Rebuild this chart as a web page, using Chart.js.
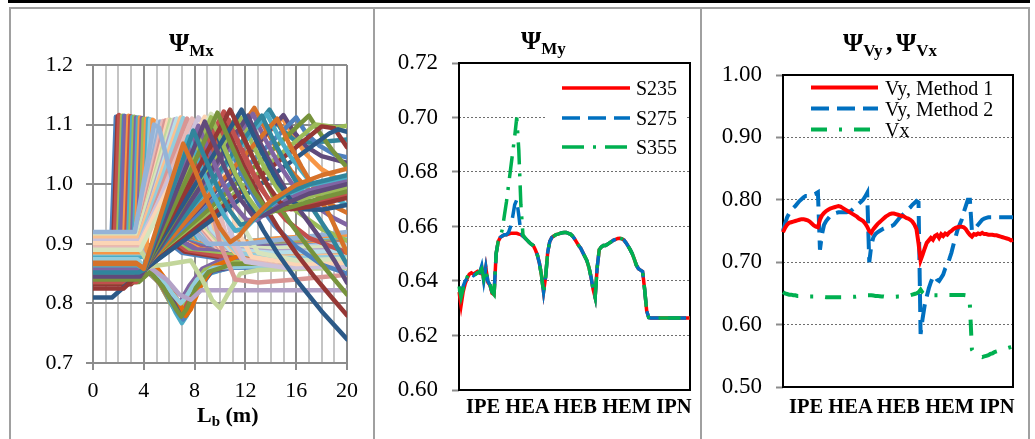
<!DOCTYPE html>
<html>
<head>
<meta charset="utf-8">
<script src="https://cdn.jsdelivr.net/npm/chart.js@4.4.0/dist/chart.umd.min.js"></script>
<style>
  html, body { margin: 0; padding: 0; background: #fff; }
  #sheet { position: relative; width: 1035px; height: 439px; overflow: hidden; background: #fff;
           font-family: 'Liberation Serif', 'Times New Roman', serif; color: #000; }
  .rule { position: absolute; background: #a0a0a0; }
  canvas { position: absolute; }
  .ttl { position: absolute; font-weight: bold; font-size: 26px; line-height: 26px; white-space: nowrap; }
  .ttl .sb { font-size: 17px; position: relative; top: 5px; }
  .axt { position: absolute; font-weight: bold; font-size: 22px; line-height: 22px; white-space: nowrap; }
  .axt .sb { font-size: 15px; position: relative; top: 4px; }
  .cat { position: absolute; font-weight: bold; font-size: 20.5px; line-height: 20px; white-space: nowrap; }
</style>
</head>
<body>
<div id="sheet">
  <div class="rule" style="left:8px;top:0;width:1022px;height:3px;background:#000"></div>
  <div class="rule" style="left:9px;top:7px;width:1021px;height:2px"></div>
  <div class="rule" style="left:9px;top:7px;width:2px;height:432px"></div>
  <div class="rule" style="left:373px;top:7px;width:2px;height:432px"></div>
  <div class="rule" style="left:700px;top:7px;width:2px;height:432px"></div>
  <div class="rule" style="left:1028px;top:7px;width:2px;height:432px"></div>

  <canvas id="mxChart" width="358" height="430" style="left:12px;top:9px"></canvas>
  <canvas id="myChart" width="321" height="430" style="left:377px;top:9px"></canvas>
  <canvas id="vChart" width="324" height="430" style="left:703px;top:9px"></canvas>

  <div class="ttl" style="left:169px;top:30px">Ψ<span class="sb">Mx</span></div>
  <div class="ttl" style="left:521px;top:28px">Ψ<span class="sb">My</span></div>
  <div class="ttl" style="left:843px;top:30px;word-spacing:-3px">Ψ<span class="sb">Vy</span> , Ψ<span class="sb">Vx</span></div>
  <div class="axt" style="left:197px;top:404px">L<span class="sb">b</span> (m)</div>
  <div class="cat" style="left:466px;top:396px">IPE HEA HEB HEM IPN</div>
  <div class="cat" style="left:789px;top:396px">IPE HEA HEB HEM IPN</div>
</div>

<script>
// ---------- Ψ_Mx against unbraced length: each curve is a list of [Lb (m), Ψ] ----------

// early curves: flat, then a near-vertical jump to about 1.11
const steepRise = [
  [[0,0.905],[1.45,0.905],[1.8,1.113],[2.15,1.105],[3.0,1.06],[4.2,0.97],[5.5,0.91],[7.0,0.885],[10,0.875],[20,0.872]],
  [[0,0.902],[1.6,0.902],[1.95,1.114],[2.3,1.106],[3.2,1.058],[4.4,0.972],[5.7,0.912],[7.2,0.887],[10,0.878],[20,0.875]],
  [[0,0.898],[1.7,0.898],[2.05,1.116],[2.4,1.106],[3.3,1.06],[4.5,0.975],[5.8,0.915],[7.3,0.89],[10,0.88],[20,0.878]],
  [[0,0.892],[1.95,0.892],[2.3,1.115],[2.65,1.105],[3.6,1.055],[4.8,0.97],[6.1,0.915],[7.6,0.892],[11,0.884],[20,0.882]],
  [[0,0.894],[2.1,0.894],[2.45,1.115],[2.8,1.105],[3.8,1.052],[5.0,0.968],[6.3,0.913],[7.9,0.893],[12,0.889],[20,0.887]],
  [[0,0.887],[2.2,0.887],[2.55,1.114],[2.9,1.105],[3.9,1.05],[5.1,0.965],[6.4,0.912],[8.0,0.893],[12,0.888],[20,0.886]],
  [[0,0.900],[2.45,0.900],[2.8,1.115],[3.15,1.106],[4.1,1.055],[5.4,0.97],[6.7,0.918],[8.3,0.898],[12,0.893],[20,0.892]],
  [[0,0.897],[2.6,0.897],[2.95,1.114],[3.3,1.105],[4.3,1.052],[5.6,0.966],[6.9,0.916],[8.5,0.899],[12,0.895],[20,0.895]],
  [[0,0.895],[2.75,0.895],[3.1,1.113],[3.45,1.104],[4.4,1.05],[5.7,0.965],[7.0,0.915],[8.6,0.9],[12,0.896],[20,0.897]],
  [[0,0.891],[2.9,0.891],[3.25,1.113],[3.6,1.104],[4.6,1.05],[5.9,0.963],[7.2,0.912],[8.9,0.898],[13,0.9],[20,0.9]],
  [[0,0.889],[3.05,0.889],[3.4,1.112],[3.75,1.104],[4.7,1.05],[6.0,0.962],[7.3,0.91],[9.0,0.897],[13,0.9],[20,0.902]],
  [[0,0.885],[3.2,0.885],[3.55,1.112],[3.9,1.104],[4.9,1.05],[6.2,0.961],[7.5,0.911],[9.2,0.899],[13,0.903],[20,0.905]],
  [[0,0.884],[3.35,0.884],[3.7,1.112],[4.05,1.104],[5.0,1.05],[6.3,0.96],[7.6,0.912],[9.3,0.9],[13,0.904],[20,0.906]],
  [[0,0.882],[3.5,0.882],[3.85,1.111],[4.2,1.103],[5.2,1.05],[6.5,0.96],[7.8,0.912],[9.5,0.901],[14,0.905],[20,0.908]],
  [[0,0.880],[3.65,0.880],[4.0,1.11],[4.35,1.103],[5.3,1.05],[6.6,0.96],[7.9,0.912],[9.6,0.902],[14,0.905],[20,0.91]],
  [[0,0.879],[3.8,0.879],[4.2,1.11],[4.55,1.103],[5.5,1.05],[6.8,0.958],[8.1,0.91],[9.9,0.9],[14,0.907],[20,0.911]],
  [[0,0.878],[3.95,0.878],[4.35,1.11],[4.7,1.103],[5.6,1.05],[6.9,0.958],[8.2,0.91],[10,0.9],[14,0.908],[20,0.912]],
  [[0,0.884],[4.05,0.884],[4.5,1.109],[4.85,1.102],[5.8,1.047],[7.1,0.956],[8.4,0.909],[10.2,0.9],[15,0.909],[20,0.914]],
  [[0,0.886],[4.2,0.886],[4.7,1.108],[5.05,1.102],[6.0,1.045],[7.3,0.955],[8.6,0.908],[10.5,0.9],[15,0.91],[20,0.915]]
];
const steepRiseColors = ['#4F81BD','#953735','#C0504D','#9BBB59','#4F81BD','#8064A2','#F79646','#C0504D','#4BACC6',
                         '#9BBB59','#8064A2','#4BACC6','#F79646','#8064A2','#9BBB59','#F79646','#4BACC6','#93CDDD','#F79646'];

// curves that leave the 4 m node downwards and bottom out near 7 m
const nodeDips = [
  [[0,0.848],[3.7,0.848],[4.3,0.853],[5.2,0.835],[6.0,0.805],[6.4,0.793],[6.8,0.8],[7.6,0.83],[8.6,0.858],[10,0.872],[14,0.878],[20,0.88]],
  [[0,0.843],[3.7,0.843],[4.4,0.853],[5.3,0.832],[6.1,0.8],[6.6,0.786],[7.0,0.795],[7.8,0.828],[8.8,0.856],[10.2,0.868],[14,0.872],[20,0.874]],
  [[0,0.838],[3.6,0.838],[4.5,0.853],[5.4,0.83],[6.3,0.795],[6.8,0.779],[7.2,0.79],[8.0,0.826],[9.0,0.852],[10.5,0.864],[15,0.868],[20,0.868]],
  [[0,0.860],[3.8,0.860],[4.6,0.853],[5.5,0.83],[6.5,0.785],[7.0,0.767],[7.4,0.78],[8.2,0.822],[9.2,0.85],[11,0.862],[16,0.864],[20,0.865]],
  [[0,0.853],[3.8,0.853],[4.7,0.853],[5.6,0.83],[6.6,0.787],[7.1,0.773],[7.5,0.785],[8.3,0.824],[9.3,0.852],[11,0.86],[20,0.862]],
  [[0,0.846],[3.7,0.846],[4.8,0.853],[5.7,0.83],[6.7,0.792],[7.2,0.785],[7.6,0.795],[8.4,0.83],[9.4,0.855],[11.5,0.863],[20,0.866]],
  [[0,0.863],[3.6,0.863],[4.4,0.856],[5.0,0.861],[5.9,0.835],[6.8,0.8],[7.3,0.779],[7.7,0.79],[8.45,0.828],[9.5,0.862],[11.5,0.88],[20,0.885]],
  [[0,0.874],[3.5,0.874],[4.3,0.856],[5.3,0.845],[6.3,0.815],[6.9,0.8],[7.3,0.81],[8.2,0.84],[9.5,0.86],[12,0.862],[20,0.864]],
  [[0,0.836],[3.6,0.836],[4.5,0.853],[5.5,0.828],[6.5,0.792],[6.95,0.778],[7.35,0.79],[8.1,0.826],[9.1,0.853],[11,0.866],[20,0.87]],
  [[0,0.900],[3.6,0.900],[4.5,0.86],[5.8,0.84],[6.8,0.815],[7.7,0.806],[8.5,0.822],[12,0.822],[20,0.822]],
  [[0,0.895],[3.6,0.895],[4.5,0.862],[6.0,0.866],[7.7,0.872],[8.6,0.84],[9.4,0.805],[10,0.792],[10.6,0.815],[11.6,0.85],[13,0.856],[20,0.86]]
];
const nodeDipColors = ['#8064A2','#9BBB59','#C0504D','#4BACC6','#4F81BD','#604A7B','#E46C0A','#93CDDD','#77933C','#B3A2C7','#C3D69B'];

// pale curves climbing diagonally from about 3.5 m
const paleRise = [
  [[0,0.918],[3.3,0.918],[5.1,1.105],[5.45,1.1],[6.5,1.02],[7.8,0.94],[9.3,0.9],[12,0.89],[20,0.9]],
  [[0,0.916],[3.4,0.916],[5.3,1.105],[5.65,1.1],[6.7,1.02],[8.0,0.937],[9.5,0.897],[13,0.888],[20,0.895]],
  [[0,0.912],[3.4,0.912],[5.5,1.106],[5.85,1.1],[6.9,1.02],[8.2,0.935],[9.7,0.895],[13,0.885],[20,0.89]],
  [[0,0.909],[3.45,0.909],[5.7,1.107],[6.05,1.1],[7.1,1.02],[8.4,0.932],[9.9,0.894],[13,0.886],[20,0.89]],
  [[0,0.907],[3.5,0.907],[5.9,1.108],[6.25,1.101],[7.3,1.02],[8.6,0.93],[10.1,0.893],[13,0.885],[20,0.892]],
  [[0,0.913],[3.5,0.913],[6.1,1.108],[6.45,1.1],[7.5,1.02],[8.8,0.93],[10.3,0.894],[14,0.89],[20,0.893]],
  [[0,0.915],[3.5,0.915],[6.3,1.108],[6.65,1.1],[7.7,1.02],[9.0,0.93],[10.5,0.895],[14,0.892],[20,0.895]],
  [[0,0.904],[3.55,0.904],[6.45,1.109],[6.8,1.1],[7.85,1.02],[9.15,0.927],[10.6,0.892],[14,0.887],[20,0.89]],
  [[0,0.902],[3.6,0.902],[6.6,1.11],[6.95,1.1],[8.0,1.02],[9.3,0.925],[10.8,0.89],[14,0.885],[20,0.888]],
  [[0,0.910],[3.6,0.910],[6.9,1.112],[7.25,1.102],[8.3,1.02],[9.6,0.925],[11.2,0.885],[15,0.878],[20,0.88]],
  [[0,0.899],[3.6,0.899],[7.1,1.111],[7.45,1.101],[8.5,1.018],[9.8,0.922],[11.4,0.884],[15,0.876],[20,0.878]],
  [[0,0.895],[3.7,0.895],[7.4,1.11],[7.75,1.1],[8.8,1.01],[10,0.9],[11.2,0.84],[13,0.835],[16,0.84],[20,0.848]],
  [[0,0.893],[3.7,0.893],[7.8,1.11],[8.15,1.1],[9.2,1.015],[10.4,0.92],[11.7,0.875],[15,0.862],[20,0.866]],
  [[0,0.905],[3.7,0.905],[8.3,1.112],[8.65,1.102],[9.6,1.02],[10.8,0.92],[12,0.87],[15,0.86],[20,0.862]],
  [[0,0.901],[3.7,0.901],[8.8,1.113],[9.15,1.103],[10.1,1.02],[11.3,0.925],[12.5,0.878],[16,0.866],[20,0.868]],
  [[0,0.890],[3.7,0.890],[9.3,1.118],[9.65,1.108],[10.6,1.03],[11.8,0.93],[13,0.885],[16,0.872],[20,0.875]],
  [[0,0.920],[3.3,0.920],[4.8,1.1],[5.2,1.095],[6.2,1.01],[7.5,0.93],[9.0,0.9],[12,0.9],[20,0.92]]
];
const paleRiseColors = ['#B9CDE5','#95B3D7','#E6B9B8','#D99694','#FCD5B5','#C3D69B','#D7E4BD','#B3A2C7','#B7DEE8',
                        '#FAC090','#93CDDD','#D99694','#E6B9B8','#CCC1DA','#FCD5B5','#D7E4BD','#95B3D7'];

// late peaks that stay high to 20 m
const fanLate = [
  [[0,0.862],[3.5,0.862],[4.0,0.857],[12.7,1.128],[13.6,1.092],[14.6,1.055],[15.6,1.022],[17,0.99],[18.5,0.968],[20,0.952]],
  [[0,0.861],[3.5,0.861],[4.0,0.858],[14.9,1.112],[15.8,1.08],[16.8,1.05],[18,1.025],[20,1.0]],
  [[0,0.850],[3.6,0.850],[4.0,0.856],[13.9,1.125],[14.8,1.093],[15.8,1.075],[17,1.07],[18.5,1.072],[20,1.075]],
  [[0,0.842],[3.7,0.842],[4.0,0.855],[15.0,1.116],[15.8,1.088],[16.8,1.063],[18,1.047],[20,1.036]],
  [[0,0.851],[3.6,0.851],[4.0,0.856],[16.0,1.112],[16.8,1.085],[17.8,1.065],[19,1.05],[20,1.045]],
  [[0,0.838],[3.6,0.838],[4.0,0.855],[17.0,1.115],[17.8,1.088],[18.8,1.058],[20,1.028]],
  [[0,0.843],[3.6,0.843],[4.0,0.855],[17.5,1.1],[18.3,1.098],[19.2,1.095],[20,1.098]],
  [[0,0.832],[3.0,0.832],[4.0,0.855],[18.0,1.097],[19.0,1.094],[20,1.062]],
  [[0,0.856],[3.7,0.856],[4.0,0.856],[18.6,1.085],[19.3,1.092],[20,1.088]]
];
const fanLateColors = ['#D6722A','#F79646','#31859C','#604A7B','#4F81BD','#77933C','#9BBB59','#953735','#2C5987'];

// peaks that fall well below 1.0 by 20 m
const fanDrop = [
  [[0,0.851],[3.7,0.851],[4.0,0.856],[9.9,1.102],[10.9,1.055],[11.9,1.01],[13,0.968],[14.3,0.93],[16,0.895],[18,0.865],[20,0.85]],
  [[0,0.849],[3.7,0.849],[4.0,0.856],[10.7,1.108],[11.7,1.06],[12.7,1.016],[13.8,0.975],[15.2,0.94],[17,0.91],[20,0.885]],
  [[0,0.847],[3.6,0.847],[4.0,0.855],[11.6,1.112],[12.5,1.07],[13.5,1.028],[14.6,0.99],[16,0.955],[18,0.925],[20,0.905]],
  [[0,0.855],[3.7,0.855],[4.0,0.857],[12.6,1.118],[13.5,1.078],[14.5,1.038],[15.7,1.0],[17.2,0.968],[18.8,0.945],[20,0.932]],
  [[0,0.859],[3.6,0.859],[4.0,0.857],[13.7,1.118],[14.6,1.08],[15.6,1.045],[16.8,1.012],[18.3,0.985],[20,0.965]],
  [[0,0.868],[3.4,0.868],[4.0,0.858],[14.5,1.11],[15.4,1.07],[16.4,1.03],[17.5,0.99],[18.7,0.945],[20,0.885]],
  [[0,0.854],[3.7,0.854],[4.0,0.857],[13.3,1.115],[14.2,1.074],[15.2,1.033],[16.3,0.993],[17.5,0.952],[18.8,0.91],[20,0.865]],
  [[0,0.844],[3.6,0.844],[4.0,0.855],[12.2,1.115],[13.1,1.072],[14.1,1.03],[15.2,0.99],[16.5,0.95],[17.8,0.912],[19,0.872],[20,0.835]],
  [[0,0.836],[3.5,0.836],[4.0,0.855],[11.2,1.11],[12.2,1.062],[13.2,1.018],[14.3,0.976],[15.5,0.936],[17,0.893],[18.5,0.853],[20,0.815]],
  [[0,0.848],[3.7,0.848],[4.0,0.856],[10.3,1.105],[11.3,1.057],[12.3,1.012],[13.4,0.968],[14.6,0.926],[16,0.884],[17.5,0.843],[18.8,0.81],[20,0.78]],
  [[0,0.857],[3.8,0.857],[4.1,0.856],[9.4,1.10],[10.4,1.052],[11.4,1.007],[12.4,0.963],[13.4,0.923],[14.5,0.885],[16,0.84],[18,0.787],[20,0.74]]
];
const fanDropColors = ['#4F81BD','#C0504D','#9BBB59','#8064A2','#4BACC6','#D6722A','#31859C','#604A7B','#77933C','#953735','#2C5987'];

// peaks that dip and climb back towards 1.0
const fanReturn = [
  [[0,0.836],[3.4,0.836],[4.0,0.854],[10.3,1.122],[11.2,1.08],[12.2,1.033],[13.2,0.993],[14.2,0.965],[15.1,0.957],[16.5,0.963],[18.5,0.975],[20,0.982]],
  [[0,0.847],[3.6,0.847],[4.0,0.855],[9.3,1.112],[10.2,1.068],[11.2,1.018],[12.2,0.978],[13.1,0.952],[14,0.952],[15.5,0.967],[17.5,0.982],[20,0.994]],
  [[0,0.858],[3.6,0.858],[4.0,0.857],[8.3,1.098],[9.2,1.052],[10.2,1.003],[11.2,0.962],[12.1,0.94],[12.9,0.94],[14.2,0.96],[16,0.982],[18,0.996],[20,1.006]],
  [[0,0.864],[3.5,0.864],[4.0,0.858],[7.5,1.08],[8.4,1.035],[9.4,0.985],[10.4,0.945],[11.2,0.922],[12,0.926],[13.2,0.952],[15,0.98],[17,0.998],[20,1.012]],
  [[0,0.810],[1.5,0.810],[3.8,0.853],[11.7,1.125],[12.6,1.084],[13.6,1.041],[14.6,1.002],[15.6,0.973],[16.6,0.958],[18,0.957],[20,0.965]],
  [[0,0.825],[2.4,0.825],[3.8,0.853],[10.8,1.125],[11.7,1.085],[12.7,1.04],[13.7,1.0],[14.7,0.97],[15.6,0.958],[17,0.962],[20,0.977]],
  [[0,0.840],[3.6,0.840],[4.0,0.854],[9.8,1.12],[10.7,1.075],[11.7,1.027],[12.7,0.987],[13.6,0.96],[14.5,0.955],[16,0.964],[18,0.977],[20,0.988]],
  [[0,0.845],[3.7,0.845],[4.0,0.855],[8.8,1.105],[9.7,1.06],[10.7,1.012],[11.7,0.972],[12.6,0.947],[13.5,0.948],[15,0.966],[17,0.984],[20,1.0]],
  [[0,0.852],[3.6,0.852],[4.0,0.856],[7.9,1.09],[8.8,1.045],[9.8,0.995],[10.8,0.955],[11.6,0.932],[12.3,0.935],[13.5,0.958],[15,0.982],[17,1.0],[20,1.015]],
  [[0,0.866],[3.5,0.866],[4.0,0.858],[7.1,1.068],[8.0,1.025],[9.0,0.972],[10.0,0.927],[10.8,0.903],[11.5,0.913],[12.5,0.94],[14,0.972],[16,0.999],[18,1.015],[20,1.026]]
];
const fanReturnColors = ['#C0504D','#9BBB59','#8064A2','#4BACC6','#2C5987','#953735','#77933C','#604A7B','#31859C','#D6722A'];

// ---------- sections along the x axis of the two right panels ----------
const ipeSizes = [80,100,120,140,160,180,200,220,240,270,300,330,360,400,450,500,550,600];
const heSizes = [100,120,140,160,180,200,220,240,260,280,300,320,340,360,400,450,500,550,600,650,700,800,900,1000];
const ipnSizes = [80,100,120,140,160,180,200,220,240,260,280,300,320,340,360,380,400,425,450,475,500,550,600];

// ---------- Ψ_My per steel grade ----------
const myIpe235 = [0.636,0.631,0.636,0.639,0.641,0.6425,0.643,0.6425,0.643,0.6435,0.643,0.645,0.6405,0.645,0.6395,0.6385,0.6355,0.635];
const myIpe275 = [0.637,0.636,0.638,0.640,0.641,0.642,0.6425,0.642,0.6425,0.643,0.643,0.6455,0.640,0.645,0.640,0.6385,0.636,0.635];
const myIpe355 = [0.638,0.634,0.637,0.640,0.6415,0.643,0.643,0.6425,0.6425,0.643,0.6435,0.6445,0.641,0.644,0.6395,0.639,0.636,0.635];
const myHea235 = [0.650,0.6545,0.656,0.6565,0.657,0.657,0.6572,0.6575,0.6575,0.6575,0.6575,0.6572,0.657,0.6565,0.6558,0.655,0.6542,0.6535,0.653,0.6515,0.6495,0.6465,0.642,0.636];
const myHea275 = [0.650,0.6545,0.656,0.6565,0.657,0.657,0.6578,0.660,0.6635,0.668,0.6698,0.664,0.6578,0.6565,0.6558,0.655,0.6542,0.6535,0.653,0.6515,0.6495,0.6465,0.642,0.636];
const myHea355 = [0.650,0.6545,0.656,0.659,0.664,0.669,0.675,0.681,0.687,0.693,0.700,0.688,0.668,0.657,0.6558,0.655,0.6542,0.6535,0.653,0.6515,0.6495,0.6465,0.642,0.6355];
const myHeb = [0.6415,0.6505,0.6545,0.656,0.6565,0.657,0.6572,0.6575,0.6577,0.6578,0.6578,0.6575,0.6572,0.6565,0.6555,0.6543,0.653,0.652,0.6505,0.649,0.6475,0.645,0.6415,0.637];
const myHem = [0.634,0.645,0.6515,0.6525,0.653,0.653,0.6535,0.654,0.6545,0.655,0.6553,0.6556,0.6557,0.6555,0.655,0.654,0.6528,0.6515,0.650,0.648,0.6458,0.6445,0.644,0.6435];
const myIpn = [0.637,0.629,0.6266,0.6264,0.6264,0.6264,0.6264,0.6264,0.6264,0.6264,0.6264,0.6264,0.6264,0.6264,0.6264,0.6264,0.6264,0.6264,0.6264,0.6264,0.6264,0.6264,0.6264];

// ---------- Ψ_Vy (two methods) and Ψ_Vx ----------
const vy1 = [
  0.748,0.755,0.760,0.763,0.764,0.765,0.766,0.767,0.768,0.769,0.769,0.768,0.767,0.765,0.762,0.759,0.757,0.756,
  0.768,0.775,0.779,0.782,0.784,0.786,0.787,0.788,0.789,0.790,0.789,0.787,0.785,0.783,0.781,0.779,0.777,0.775,0.773,0.770,0.768,0.766,0.762,0.757,
  0.750,0.747,0.753,0.757,0.761,0.764,0.767,0.770,0.773,0.775,0.777,0.778,0.778,0.777,0.776,0.775,0.774,0.773,0.771,0.770,0.768,0.765,0.760,0.753,
  0.730,0.703,0.712,0.722,0.731,0.735,0.739,0.736,0.742,0.744,0.739,0.745,0.742,0.746,0.744,0.748,0.750,0.753,0.755,0.756,0.757,0.757,0.756,0.753,
  0.748,0.744,0.741,0.745,0.744,0.746,0.745,0.747,0.745,0.745,0.744,0.744,0.744,0.743,0.743,0.742,0.741,0.740,0.739,0.738,0.737,0.735,0.736
];
const vy2 = [
  0.750,0.762,0.772,0.778,0.782,0.787,0.790,0.794,0.798,0.801,0.804,0.806,0.806,0.807,0.808,0.809,0.810,0.812,
  0.720,0.745,0.760,0.766,0.770,0.774,0.776,0.778,0.779,0.780,0.780,0.780,0.780,0.780,0.781,0.782,0.785,0.788,0.791,0.794,0.797,0.800,0.805,0.811,
  0.700,0.727,0.740,0.745,0.748,0.750,0.752,0.754,0.755,0.757,0.757,0.758,0.760,0.764,0.768,0.772,0.775,0.778,0.781,0.785,0.788,0.792,0.795,0.798,
  0.796,0.585,0.610,0.631,0.645,0.658,0.668,0.676,0.678,0.672,0.670,0.675,0.680,0.690,0.696,0.705,0.715,0.728,0.740,0.752,0.760,0.768,0.780,0.790,
  0.800,0.800,0.750,0.752,0.756,0.760,0.764,0.768,0.770,0.771,0.772,0.772,0.772,0.772,0.772,0.772,0.772,0.772,0.772,0.772,0.772,0.772,0.772
];
const vx = [
  0.652,0.650,0.649,0.648,0.648,0.647,0.647,0.646,0.646,0.646,0.646,0.646,0.645,0.645,0.645,0.645,0.645,0.645,
  0.645,0.6445,0.6445,0.644,0.644,0.644,0.644,0.644,0.644,0.644,0.644,0.644,0.644,0.644,0.644,0.644,0.6445,0.6445,0.645,0.645,0.6455,0.646,0.6465,0.647,
  0.647,0.647,0.6465,0.646,0.646,0.6455,0.645,0.645,0.6445,0.6445,0.6445,0.6445,0.6445,0.6445,0.645,0.645,0.6455,0.646,0.646,0.6465,0.647,0.648,0.649,0.650,
  0.652,0.656,0.651,0.648,0.647,0.647,0.647,0.647,0.647,0.647,0.647,0.647,0.647,0.6475,0.6475,0.6475,0.6475,0.6475,0.6475,0.6475,0.6475,0.6475,0.6475,0.647,
  0.647,0.632,0.560,0.555,0.552,0.550,0.549,0.548,0.549,0.550,0.551,0.553,0.554,0.556,0.557,0.558,0.559,0.560,0.561,0.562,0.563,0.564,0.565
];

const profiles = [
  ...ipeSizes.map(s => 'IPE ' + s),
  ...heSizes.map(s => 'HEA ' + s),
  ...heSizes.map(s => 'HEB ' + s),
  ...heSizes.map(s => 'HEM ' + s),
  ...ipnSizes.map(s => 'IPN ' + s)
];

Chart.defaults.font.family = "'Liberation Serif', 'Times New Roman', serif";
Chart.defaults.color = '#000';
Chart.defaults.animation = false;

// ---------- left panel ----------
const mxGroups = [
  [steepRise, steepRiseColors],
  [nodeDips, nodeDipColors],
  [paleRise, paleRiseColors],
  [fanLate, fanLateColors],
  [fanDrop, fanDropColors],
  [fanReturn, fanReturnColors]
];
const mxDatasets = [];
mxGroups.forEach(([curves, colors]) => {
  curves.forEach((pts, k) => {
    mxDatasets.push({
      data: pts,
      borderColor: colors[k],
      borderWidth: 4.5,
      pointRadius: 0,
      borderJoinStyle: 'round',
      borderCapStyle: 'round',
      tension: 0
    });
  });
});
// later groups are painted over earlier ones
mxDatasets.forEach((ds, i) => { ds.order = mxDatasets.length - i; });

new Chart(document.getElementById('mxChart'), {
  type: 'line',
  data: { datasets: mxDatasets },
  options: {
    responsive: false,
    layout: { padding: { top: 56, right: 23, left: 0, bottom: 0 } },
    plugins: { legend: { display: false }, tooltip: { enabled: false } },
    scales: {
      x: {
        type: 'linear', min: 0, max: 20,
        ticks: {
          stepSize: 1, autoSkip: false, maxRotation: 0, padding: 8,
          font: { size: 22 },
          callback: v => (v % 4 === 0 ? String(v) : '')
        },
        grid: {
          lineWidth: 2, tickLength: 7,
          color: c => (c.tick && c.tick.value % 4 === 0 ? '#8c8c8c' : '#c4c4c4'),
          tickColor: c => (c.tick && c.tick.value % 4 === 0 ? '#8c8c8c' : 'rgba(0,0,0,0)')
        },
        border: { color: '#8c8c8c', width: 2 },
        afterFit(s) { s.height = 76; }
      },
      y: {
        min: 0.7, max: 1.2,
        ticks: { stepSize: 0.1, padding: 13, font: { size: 22 }, callback: v => v.toFixed(1) },
        grid: { color: '#8c8c8c', lineWidth: 2, tickLength: 7 },
        border: { color: '#8c8c8c', width: 2 },
        afterFit(s) { s.width = 81; }
      }
    }
  }
});

// ---------- framed panels with a legend inside the plot ----------
const panelDecor = {
  id: 'panelDecor',
  beforeDatasetsDraw(chart, args, opts) {
    const { ctx, chartArea: a } = chart;
    ctx.save();
    if (opts.box) {
      ctx.fillStyle = '#fff';
      ctx.fillRect(a.left + opts.box[0], a.top + opts.box[1], opts.box[2], opts.box[3]);
    }
    ctx.strokeStyle = '#000';
    ctx.lineWidth = 2;
    ctx.strokeRect(a.left, a.top, a.right - a.left, a.bottom - a.top);
    ctx.restore();
  },
  afterDatasetsDraw(chart, args, opts) {
    const { ctx, chartArea: a } = chart;
    ctx.save();
    ctx.font = opts.fontSize + "px 'Liberation Serif', serif";
    ctx.textBaseline = 'alphabetic';
    chart.data.datasets.forEach((ds, i) => {
      const y = a.top + opts.rows[i];
      ctx.strokeStyle = ds.borderColor;
      ctx.lineWidth = ds.borderWidth;
      ctx.lineCap = 'butt';
      ctx.setLineDash(ds.borderDash || []);
      ctx.beginPath();
      ctx.moveTo(a.left + opts.lineFrom, y);
      ctx.lineTo(a.left + opts.lineTo, y);
      ctx.stroke();
      ctx.fillStyle = '#000';
      ctx.fillText(ds.label, a.left + opts.textAt, y + Math.round(opts.fontSize * 0.33));
    });
    ctx.restore();
  }
};

function framedScales(yMin, yMax, step, yWidth, xHeight) {
  return {
    x: {
      type: 'category', offset: false,
      grid: { display: false }, ticks: { display: false }, border: { display: false },
      afterFit(s) { s.height = xHeight; }
    },
    y: {
      min: yMin, max: yMax,
      ticks: { stepSize: step, padding: 14, font: { size: 23 }, callback: v => v.toFixed(2) },
      grid: {
        lineWidth: 1, tickLength: 7, tickWidth: 2, tickColor: '#8c8c8c',
        color: c => (c.tick && (c.tick.value < yMin + step / 2 || c.tick.value > yMax - step / 2) ? 'rgba(0,0,0,0)' : '#6e6e6e')
      },
      border: { display: false, dash: [2, 2] },
      afterFit(s) { s.width = yWidth; }
    }
  };
}

new Chart(document.getElementById('myChart'), {
  type: 'line',
  data: {
    labels: profiles,
    datasets: [
      { label: 'S235', data: [...myIpe235, ...myHea235, ...myHeb, ...myHem, ...myIpn], borderColor: '#ff0000', borderWidth: 3.5, pointRadius: 0, order: 2 },
      { label: 'S275', data: [...myIpe275, ...myHea275, ...myHeb, ...myHem, ...myIpn], borderColor: '#0070c0', borderWidth: 3.5, borderDash: [18, 8], pointRadius: 0, order: 1 },
      { label: 'S355', data: [...myIpe355, ...myHea355, ...myHeb, ...myHem, ...myIpn], borderColor: '#00b050', borderWidth: 3.5, borderDash: [22, 9, 3, 9], pointRadius: 0, order: 0 }
    ]
  },
  options: {
    responsive: false,
    layout: { padding: { top: 54, right: 8, left: 0, bottom: 0 } },
    plugins: {
      legend: { display: false }, tooltip: { enabled: false },
      panelDecor: { box: [88, 8, 139, 92], rows: [25, 55, 84], lineFrom: 103, lineTo: 171, textAt: 177, fontSize: 20 }
    },
    scales: framedScales(0.6, 0.72, 0.02, 82, 49)
  },
  plugins: [panelDecor]
});

new Chart(document.getElementById('vChart'), {
  type: 'line',
  data: {
    labels: profiles,
    datasets: [
      { label: 'Vy, Method 1', data: vy1, borderColor: '#ff0000', borderWidth: 4, pointRadius: 0, order: 0 },
      { label: 'Vy, Method 2', data: vy2, borderColor: '#0070c0', borderWidth: 4, borderDash: [18, 8], pointRadius: 0, order: 1 },
      { label: 'Vx', data: vx, borderColor: '#00b050', borderWidth: 4, borderDash: [16, 12, 3, 12], pointRadius: 0, order: 2 }
    ]
  },
  options: {
    responsive: false,
    layout: { padding: { top: 66, right: 14, left: 0, bottom: 0 } },
    plugins: {
      legend: { display: false }, tooltip: { enabled: false },
      panelDecor: { rows: [12.5, 33.5, 54.5], lineFrom: 28, lineTo: 95, textAt: 102, fontSize: 20 }
    },
    scales: framedScales(0.5, 1.0, 0.1, 80, 52)
  },
  plugins: [panelDecor]
});
</script>
</body>
</html>
